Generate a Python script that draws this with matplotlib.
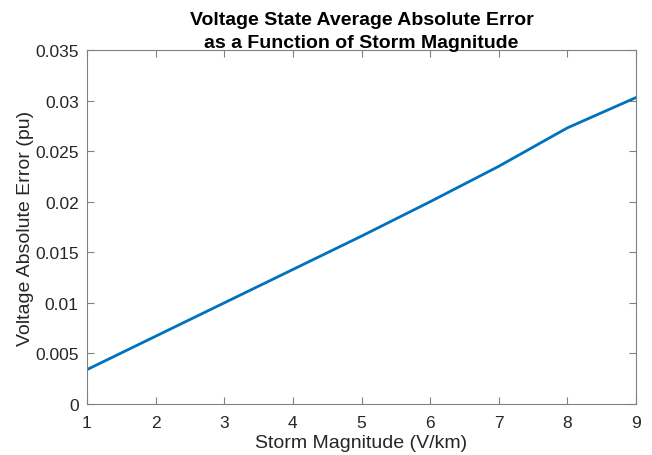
import matplotlib
matplotlib.use("Agg")
import matplotlib.pyplot as plt

storm_magnitude = [1, 2, 3, 4, 5, 6, 7, 8, 9]
abs_error = [0.0034, 0.0067, 0.0100, 0.0133, 0.0166, 0.0200, 0.0235, 0.0273, 0.0303]
yticks = [0, 0.005, 0.01, 0.015, 0.02, 0.025, 0.03, 0.035]
ytick_labels = ["0", "0.005", "0.01", "0.015", "0.02", "0.025", "0.03", "0.035"]

plt.rcParams['font.family'] = ['Liberation Sans', 'DejaVu Sans']
fig = plt.figure(figsize=(6.52, 4.56), dpi=100)
ax = fig.add_axes([0.1334, 0.1118, 0.8421, 0.7764])
ax.plot(storm_magnitude, abs_error, color='#0072BD', linewidth=2.0)
ax.set_xlim(1, 9)
ax.set_ylim(0, 0.035)
ax.set_xticks(storm_magnitude)
ax.set_yticks(yticks)
ax.set_yticklabels(ytick_labels)
axcol = '#262626'
for s in ax.spines.values():
    s.set_color('#808080')
    s.set_linewidth(0.8)
ax.tick_params(direction='in', top=True, right=True, length=5, width=0.8,
               color='#808080', labelcolor=axcol, labelsize=12.5)
ax.tick_params(axis='x', pad=8)
ax.tick_params(axis='y', pad=6)
ax.set_xlabel('Storm Magnitude (V/km)', fontsize=14, color=axcol, labelpad=3)
ax.set_ylabel('Voltage Absolute Error (pu)', fontsize=14, color=axcol, labelpad=1)
ax.set_title('Voltage State Average Absolute Error\nas a Function of Storm Magnitude',
             fontsize=14, fontweight='bold', color='black', pad=2, linespacing=1.45)
fig.savefig('out.png', dpi=100)
